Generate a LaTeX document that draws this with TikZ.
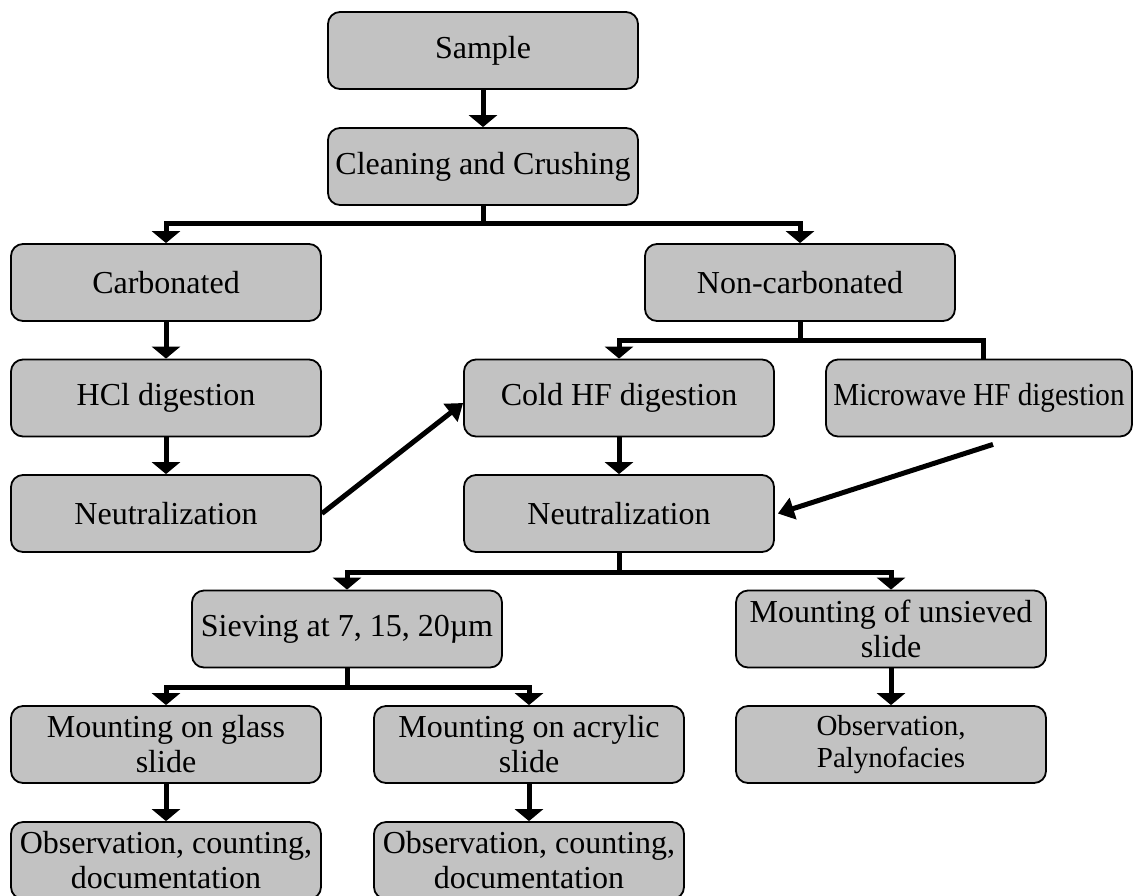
\documentclass[tikz,border=0pt]{standalone}
\usepackage{fontspec}
\setmainfont{Liberation Serif}
\usepackage{graphicx}
\usepackage{tikz}
\usetikzlibrary{arrows.meta}
\definecolor{boxgray}{RGB}{194,194,194}

\begin{document}
\begin{tikzpicture}[x=1pt,y=-1pt,
    box/.style={draw,rounded corners=12pt,fill=boxgray,line width=1.8pt,
      minimum width=310pt,minimum height=77pt,inner sep=0pt,align=center,
      font=\fontsize{32}{35}\selectfont},
    arr/.style={line width=5pt,-{Triangle[width=28pt,length=12pt]}},
    darr/.style={line width=5pt,-{Triangle[width=22pt,length=16pt]}},
    link/.style={line width=5pt}]
  \useasboundingbox (0,0) rectangle (1134,895);

   \draw (483,50.5) node[box] (sample) {Sample};
   \draw (483,166.5) node[box] (clean) {Cleaning and Crushing};
  \draw (166,282.5) node[box] (carb) {Carbonated};
  \draw (800,282.5) node[box] (noncarb) {Non-carbonated};
  \draw (166,398) node[box] (hcl) {HCl digestion};
  \draw (619,398) node[box] (coldhf) {Cold HF digestion};
  \draw (979,398) node[box,minimum width=306pt] (micro) {\scalebox{0.91}[1]{Microwave HF digestion}};
  \draw (166,513.5) node[box] (neutl) {Neutralization};
  \draw (619,513.5) node[box] (neutr) {Neutralization};
	\draw (347,629) node[box] (sieve) {Sieving at 7, 15, 20µm};
	\draw (891,629) node[box] (unsieved) {Mounting of unsieved\\slide};
	\draw (166,744.5) node[box] (glass) {Mounting on glass\\slide};
	\draw (529,744.5) node[box] (acryl) {Mounting on acrylic\\slide};
	\draw (891,744.5) node[box,font=\fontsize{29}{32}\selectfont] (palyno) {Observation,\\Palynofacies};
	\draw (166,860.5) node[box] (obsglass) {Observation, counting,\\documentation};
	\draw (529,860.5) node[box] (obsacryl) {Observation, counting,\\documentation};

  \coordinate (cleanbus) at (483,223);
  \coordinate (noncarbbus) at (800,340);
  \coordinate (neutrbus) at (619,572);
  \coordinate (sievebus) at (347,687);

     \draw[arr] (sample) -- (clean);
     \draw[arr] (clean.south) -- (cleanbus) -| (carb.north);
     \draw[arr] (cleanbus) -| (noncarb.north);
      \draw[arr] (carb) -- (hcl);
      \draw[arr] (hcl) -- (neutl);
     \draw[arr] (noncarb.south) -- (noncarbbus) -| (coldhf.north);
     \draw[link] (noncarbbus) -| ([xshift=4pt]micro.north);
      \draw[darr] (neutl.east) -- ([yshift=-5pt]coldhf.west);
      \draw[arr] (coldhf) -- (neutr);
      \draw[darr] ([shift={(14,7)}]micro.south) -- ([xshift=3pt]neutr.east);
     \draw[arr] (neutr.south) -- (neutrbus) -| (sieve.north);
     \draw[arr] (neutrbus) -| (unsieved.north);
     \draw[arr] (sieve.south) -- (sievebus) -| (glass.north);
     \draw[arr] (sievebus) -| (acryl.north);
      \draw[arr] (glass) -- (obsglass);
      \draw[arr] (acryl) -- (obsacryl);
      \draw[arr] (unsieved) -- (palyno);

\end{tikzpicture}
\end{document}
